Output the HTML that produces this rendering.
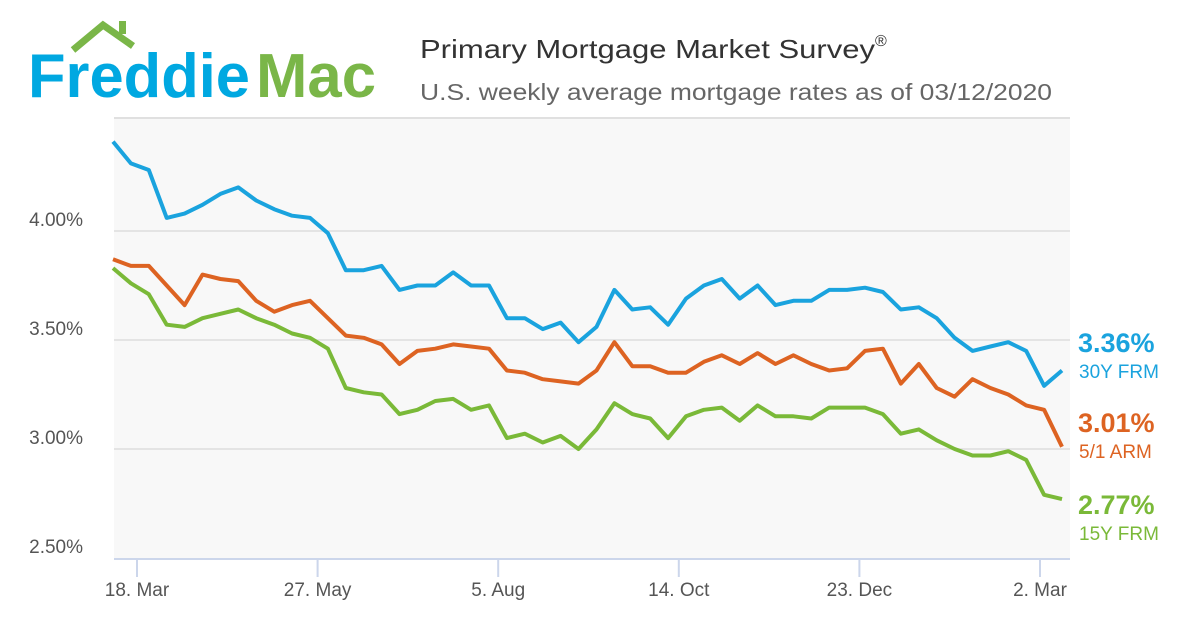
<!DOCTYPE html>
<html><head><meta charset="utf-8"><style>
body{margin:0;width:1200px;height:630px;background:#fff;font-family:"Liberation Sans",sans-serif;overflow:hidden}
</style></head><body>
<svg width="1200" height="630" xmlns="http://www.w3.org/2000/svg">
<g>
<polyline points="73,50 103,25 133,46" fill="none" stroke="#7ab648" stroke-width="7"/>
<rect x="119" y="21" width="7" height="13" fill="#7ab648"/>
<text x="28" y="97" font-size="62" fill="#00a8e1" textLength="222" lengthAdjust="spacingAndGlyphs" style="font-weight:bold">Freddie</text>
<text x="256" y="97" font-size="62" fill="#7ab648" textLength="120" lengthAdjust="spacingAndGlyphs" style="font-weight:bold">Mac</text>
</g>
<text x="420" y="58" font-size="26" fill="#333"><tspan textLength="455" lengthAdjust="spacingAndGlyphs">Primary Mortgage Market Survey</tspan><tspan font-size="16" dy="-12">®</tspan></text>
<text x="420" y="100" font-size="23" fill="#666" textLength="632" lengthAdjust="spacingAndGlyphs">U.S. weekly average mortgage rates as of 03/12/2020</text>
<rect x="114" y="118" width="956" height="441" fill="#f8f8f8"/>
<line x1="114" y1="118" x2="1070" y2="118" stroke="#e0e0e0" stroke-width="2"/>
<g id="grid"></g><g id="lines"></g><g id="labels"></g>
</svg>
<script>
const yTicks=[2.5,3.0,3.5,4.0];
const yTickLabels=["2.50%","3.00%","3.50%","4.00%"];
const xTickDates=["2019-03-18","2019-05-27","2019-08-05","2019-10-14","2019-12-23","2020-03-02"];
const xTickLabels=["18. Mar","27. May","5. Aug","14. Oct","23. Dec","2. Mar"];
const startDate="2019-03-07";
const rate30=[4.41,4.31,4.28,4.06,4.08,4.12,4.17,4.20,4.14,4.10,4.07,4.06,3.99,3.82,3.82,3.84,3.73,3.75,3.75,3.81,3.75,3.75,3.60,3.60,3.55,3.58,3.49,3.56,3.73,3.64,3.65,3.57,3.69,3.75,3.78,3.69,3.75,3.66,3.68,3.68,3.73,3.73,3.74,3.72,3.64,3.65,3.60,3.51,3.45,3.47,3.49,3.45,3.29,3.36];
const rateArm=[3.87,3.84,3.84,3.75,3.66,3.80,3.78,3.77,3.68,3.63,3.66,3.68,3.60,3.52,3.51,3.48,3.39,3.45,3.46,3.48,3.47,3.46,3.36,3.35,3.32,3.31,3.30,3.36,3.49,3.38,3.38,3.35,3.35,3.40,3.43,3.39,3.44,3.39,3.43,3.39,3.36,3.37,3.45,3.46,3.30,3.39,3.28,3.24,3.32,3.28,3.25,3.20,3.18,3.01];
const rate15=[3.83,3.76,3.71,3.57,3.56,3.60,3.62,3.64,3.60,3.57,3.53,3.51,3.46,3.28,3.26,3.25,3.16,3.18,3.22,3.23,3.18,3.20,3.05,3.07,3.03,3.06,3.00,3.09,3.21,3.16,3.14,3.05,3.15,3.18,3.19,3.13,3.20,3.15,3.15,3.14,3.19,3.19,3.19,3.16,3.07,3.09,3.04,3.00,2.97,2.97,2.99,2.95,2.79,2.77];
const NS="http://www.w3.org/2000/svg";
const DAY=86400000, t0=Date.parse(startDate), tRef=Date.parse("2019-03-18");
function xDate(ms){return 137+(ms-tRef)/DAY/7*18.06;}
function xIdx(i,n){return 113+i*(1062-113)/(n-1);}
function yVal(v){return 558-(v-2.5)*218;}
function mk(tag,attrs,parent){const e=document.createElementNS(NS,tag);for(const k in attrs)e.setAttribute(k,attrs[k]);parent.appendChild(e);return e;}
const grid=document.getElementById('grid'),lines=document.getElementById('lines'),labels=document.getElementById('labels');
yTicks.forEach((v,i)=>{
  if(v>2.5){const l=mk('line',{x1:114,x2:1070,y1:yVal(v),y2:yVal(v),stroke:'#dedede','stroke-width':1.5},grid);
  
  }
  const t=mk('text',{x:83,y:yVal(v)-5,'font-size':19,fill:'#555','text-anchor':'end'},labels);
  t.textContent=yTickLabels[i];
  
  
});
const ax=mk('line',{x1:114,x2:1070,y1:559,y2:559,stroke:'#ccd6eb','stroke-width':2},grid);


xTickDates.forEach((d,i)=>{
  const x=xDate(Date.parse(d));
  const tk=mk('line',{x1:x,x2:x,y1:559,y2:577,stroke:'#ccd6eb','stroke-width':2},grid);
  
  
  const t=mk('text',{x:x,y:596,'font-size':19,fill:'#555','text-anchor':'middle'},labels);
  t.textContent=xTickLabels[i];
  
  
});
const series=[[rate30,'#1aa3de','series-30y-frm'],[rateArm,'#dd6322','series-5-1-arm'],[rate15,'#7ab938','series-15y-frm']];
series.forEach(([data,col,dn])=>{
  const p=mk('polyline',{points:data.map((v,i)=>xIdx(i,data.length).toFixed(1)+','+yVal(v).toFixed(1)).join(' '),fill:'none',stroke:col,'stroke-width':4,'stroke-linejoin':'round'},lines);
  
  
});
const endVals=[[rate30,'#1aa3de','30Y FRM',352,'end-label-30y'],[rateArm,'#dd6322','5/1 ARM',432,'end-label-arm'],[rate15,'#7ab938','15Y FRM',514,'end-label-15y']];
endVals.forEach(([data,col,name,yy,dn])=>{
  const g=mk('g',{},labels);
  
  
  const a=mk('text',{x:1078,y:yy,'font-size':27,fill:col,'font-weight':'bold'},g);a.textContent=data[data.length-1].toFixed(2)+'%';
  const b=mk('text',{x:1079,y:yy+26,'font-size':19,fill:col},g);b.textContent=name;
});
</script>
</body></html>
